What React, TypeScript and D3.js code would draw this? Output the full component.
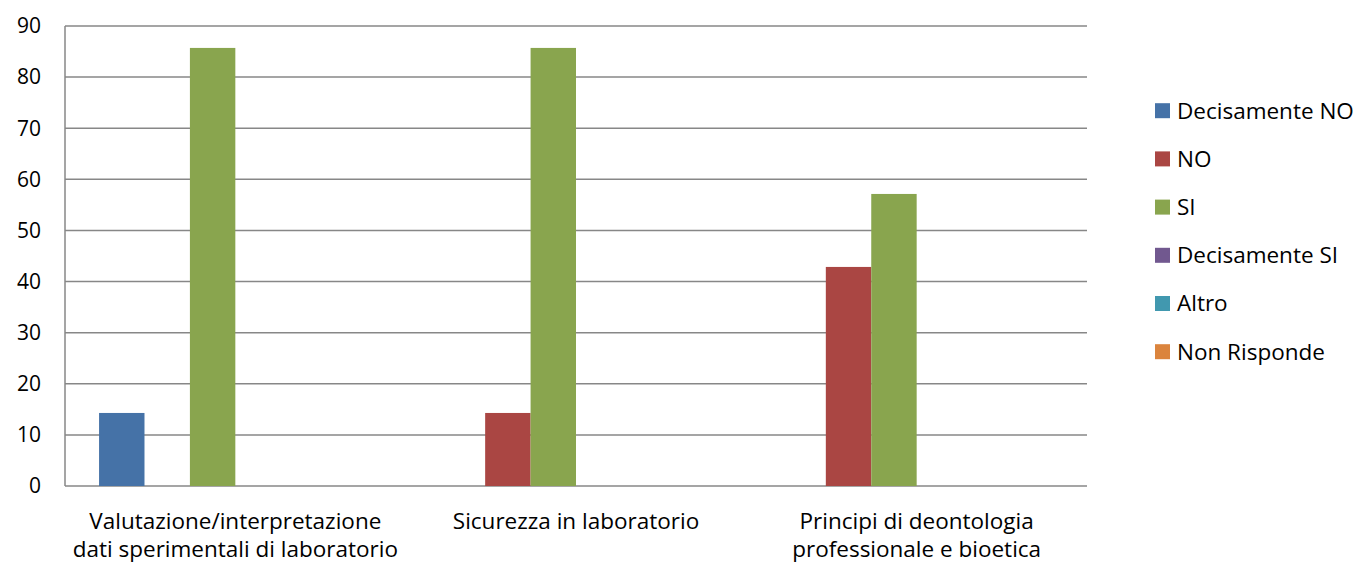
import React from "react";
import * as d3 from "d3";

const categories = [
  ["Valutazione/interpretazione", "dati sperimentali di laboratorio"],
  ["Sicurezza in laboratorio"],
  ["Principi di deontologia", "professionale e bioetica"],
];
const seriesNames = ["Decisamente NO", "NO", "SI", "Decisamente SI", "Altro", "Non Risponde"];
const seriesColors = ["#4572A7", "#AA4643", "#89A54E", "#71588F", "#4198AF", "#DB843D"];
const decisamenteNo = [14.29, 0, 0];
const no = [0, 14.29, 42.86];
const si = [85.71, 85.71, 57.14];
const decisamenteSi = [0, 0, 0];
const altro = [0, 0, 0];
const nonRisponde = [0, 0, 0];
const seriesValues = [decisamenteNo, no, si, decisamenteSi, altro, nonRisponde];
const yTicks = [0, 10, 20, 30, 40, 50, 60, 70, 80, 90];

const W = 1362, H = 563;
const left = 65, right = 1087, top = 26, bottom = 486;
const FONT = "'Open Sans', sans-serif";
const FS = 22.5;

export default function App() {
  const x0 = d3.scaleBand<number>().domain([0, 1, 2]).range([left, right]).paddingInner(0).paddingOuter(0);
  const groupW = x0.bandwidth();
  const x1 = d3.scaleBand<number>().domain(d3.range(6)).range([groupW * 0.1, groupW * 0.9]);
  const y = d3.scaleLinear().domain([0, 90]).range([bottom, top]);

  return (
    <svg width={W} height={H} style={{ position: "absolute", left: 0, top: 0, background: "#fff" }} fontFamily={FONT}>
      {yTicks.map((t) => (
        <g key={t}>
          <line x1={left} x2={right} y1={y(t)} y2={y(t)} stroke="#878787" strokeWidth={1.5} />
          <text x={41} y={y(t)} dy="0.35em" textAnchor="end" fontSize={21} fill="#000">{t}</text>
        </g>
      ))}
      <line x1={left} x2={left} y1={top} y2={bottom} stroke="#878787" strokeWidth={1.5} />
      {seriesValues.map((vals, si) =>
        vals.map((v, ci) =>
          v > 0 ? (
            <rect key={`${si}-${ci}`} x={(x0(ci) as number) + (x1(si) as number)} y={y(v)} width={x1.bandwidth()} height={y(0) - y(v)} fill={seriesColors[si]} />
          ) : null
        )
      )}
      {categories.map((lines, ci) =>
        lines.map((l, i) => (
          <text key={`${ci}-${i}`} x={(x0(ci) as number) + groupW / 2} y={529 + i * 28} textAnchor="middle" fontSize={FS} fill="#000">
            {l}
          </text>
        ))
      )}
      {seriesNames.map((n, i) => {
        const cy = 110.7 + i * 48.2;
        return (
          <g key={n}>
            <rect x={1155} y={cy - 7.5} width={15} height={15} fill={seriesColors[i]} />
            <text x={1177} y={cy} dy="0.35em" fontSize={FS} fill="#000">{n}</text>
          </g>
        );
      })}
    </svg>
  );
}
